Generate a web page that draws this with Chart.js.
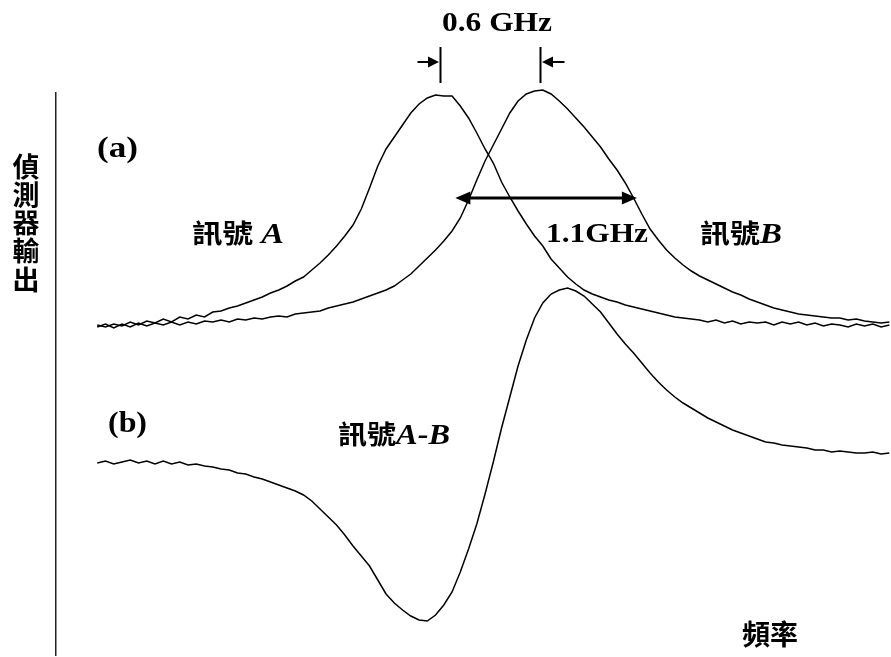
<!DOCTYPE html>
<html>
<head>
<meta charset="utf-8">
<script src="https://cdn.jsdelivr.net/npm/chart.js@4.4.1/dist/chart.umd.min.js"></script>
<style>
  html, body { margin: 0; padding: 0; background: #fff; }
  #c { display: block; }
</style>
</head>
<body>
<canvas id="c" width="891" height="657"></canvas>
<script>
// Scan frequency (GHz)
const freqGHz = [
  0.25,0.30,0.35,0.40,0.45,0.50,0.55,0.60,0.65,0.70,
  0.75,0.80,0.85,0.90,0.95,1.00,1.05,1.10,1.15,1.20,
  1.25,1.30,1.35,1.40,1.45,1.50,1.55,1.60,1.65,1.70,
  1.75,1.80,1.85,1.90,1.95,2.00,2.05,2.10,2.15,2.20,
  2.25,2.30,2.35,2.40,2.45,2.50,2.55,2.60,2.65,2.70,
  2.75,2.80,2.85,2.90,2.95,3.00,3.05,3.10,3.15,3.20,
  3.25,3.30,3.35,3.40,3.45,3.50,3.55,3.60,3.65,3.70,
  3.75,3.80,3.85,3.90,3.95,4.00,4.05,4.10,4.15,4.20,
  4.25,4.30,4.35,4.40,4.45,4.50,4.55,4.60,4.65,4.70,
  4.75,4.80,4.85,4.90,4.95,5.00,5.05
];

// Detector output (arb. units), trace (a): signal A
const signalA = [
  330,328,331,329,333,330,334,332,336,333,
  338,336,340,338,343,344,347,349,352,355,
  358,362,365,369,374,378,385,392,400,409,
  419,430,446,467,489,506,518,530,542,551,
  557,560,559,559,549,537,522,506,492,473,
  458,444,431,419,409,396,387,378,371,365,
  361,358,355,353,350,348,346,344,342,340,
  338,337,336,335,333,335,332,334,331,333,
  332,333,330,333,331,333,330,332,329,331,
  330,328,331,329,331,328,330
];

// Trace (a): signal B
const signalB = [
  328,331,327,331,328,332,329,332,330,333,
  330,333,331,334,333,335,333,336,335,337,
  336,338,339,338,341,342,343,344,347,349,
  351,353,356,359,362,365,369,375,381,389,
  397,405,414,424,437,455,475,494,510,526,
  542,554,561,564,565,561,554,546,537,528,
  518,508,496,485,472,457,441,426,415,405,
  397,390,384,379,375,371,367,363,360,356,
  353,350,347,345,343,341,340,339,338,337,
  337,335,336,334,333,332,333
];

// Trace (b): difference signal A-B
const signalAminusB = [
  192,194,191,193,195,192,194,191,194,191,
  193,190,191,189,188,186,185,182,181,178,
  176,173,170,167,164,160,154,146,138,130,
  120,109,99,89,75,61,52,45,39,35,
  34,40,50,63,83,106,131,161,193,227,
  258,289,315,337,352,361,365,367,364,359,
  351,343,332,321,311,302,292,282,273,265,
  258,252,247,242,237,233,229,225,222,219,
  216,213,212,210,209,208,207,205,205,203,
  204,203,202,202,203,201,202
];

// Annotated spacings (GHz)
const peakAFreq = 2.33;
const peakSpacing = 0.6;
const widthArrowStart = 2.42;
const widthValue = 1.1;

const yAxisTitle = ['偵', '測', '器', '輸', '出'];
const xAxisTitle = '頻率';

const SERIF_B = (s) => `bold ${s}px "Liberation Serif", "Times New Roman", serif`;
const SERIF_BI = (s) => `italic bold ${s}px "Liberation Serif", "Times New Roman", serif`;
const CJK_B = (s) => `bold ${s}px "Noto Sans CJK TC", "Noto Sans CJK SC", sans-serif`;

function toPoints(ys) {
  return freqGHz.map((f, i) => ({ x: f, y: ys[i] }));
}

// Draw a sequence of text runs, squeezed/stretched to a given width
function drawRuns(ctx, runs, left, baseline, width) {
  let total = 0;
  runs.forEach(r => { ctx.font = r.font; r.w = ctx.measureText(r.text).width; total += r.w; });
  const sx = width ? width / total : 1;
  ctx.save();
  ctx.translate(left, baseline);
  ctx.scale(sx, 1);
  ctx.textAlign = 'left';
  ctx.textBaseline = 'alphabetic';
  let cx = 0;
  runs.forEach(r => { ctx.font = r.font; ctx.fillText(r.text, cx, 0); cx += r.w; });
  ctx.restore();
}

function arrowHead(ctx, tipX, tipY, dir, len, half) {
  ctx.beginPath();
  ctx.moveTo(tipX, tipY);
  ctx.lineTo(tipX - dir * len, tipY - half);
  ctx.lineTo(tipX - dir * len, tipY + half);
  ctx.closePath();
  ctx.fill();
}

const annotate = {
  id: 'annotate',
  afterDraw(chart) {
    const { ctx, scales: { x } } = chart;
    ctx.save();
    ctx.fillStyle = '#000';
    ctx.strokeStyle = '#000';

    // Peak spacing markers
    const xa = Math.round(x.getPixelForValue(peakAFreq)) + 0.5;
    const xb = Math.round(x.getPixelForValue(peakAFreq + peakSpacing)) + 0.5;
    ctx.lineWidth = 2;
    ctx.beginPath();
    ctx.moveTo(xa, 47); ctx.lineTo(xa, 83);
    ctx.moveTo(xb, 47); ctx.lineTo(xb, 83);
    ctx.stroke();
    ctx.lineWidth = 1.8;
    ctx.beginPath();
    ctx.moveTo(xa - 23, 62); ctx.lineTo(xa - 6, 62);
    ctx.moveTo(xb + 24, 62); ctx.lineTo(xb + 6, 62);
    ctx.stroke();
    arrowHead(ctx, xa - 1.5, 62, 1, 11, 5.5);
    arrowHead(ctx, xb + 1.5, 62, -1, 11, 5.5);
    drawRuns(ctx, [{ text: peakSpacing.toFixed(1) + ' GHz', font: SERIF_B(28) }], 442, 31, 110);

    // Line width arrow
    const w0 = x.getPixelForValue(widthArrowStart);
    const w1 = x.getPixelForValue(widthArrowStart + widthValue);
    ctx.lineWidth = 3;
    ctx.beginPath();
    ctx.moveTo(w0 + 8, 198); ctx.lineTo(w1 - 8, 198);
    ctx.stroke();
    arrowHead(ctx, w0, 198, -1, 15, 6.5);
    arrowHead(ctx, w1, 198, 1, 15, 6.5);
    drawRuns(ctx, [{ text: widthValue.toFixed(1) + 'GHz', font: SERIF_B(28) }], 546, 242, 102);

    // Panel tags and trace names
    drawRuns(ctx, [{ text: '(a)', font: SERIF_B(29) }], 97, 157, 41);
    drawRuns(ctx, [{ text: '(b)', font: SERIF_B(29) }], 108, 432, 39);
    drawRuns(ctx, [
      { text: '訊號', font: CJK_B(26) },
      { text: ' ', font: SERIF_B(28) },
      { text: 'A', font: SERIF_BI(29) }
    ], 192, 243, 92);
    drawRuns(ctx, [
      { text: '訊號', font: CJK_B(26) },
      { text: 'B', font: SERIF_BI(29) }
    ], 700, 243, 82);
    drawRuns(ctx, [
      { text: '訊號', font: CJK_B(26) },
      { text: 'A-B', font: SERIF_BI(29) }
    ], 338, 444, 112);

    // Axis titles
    drawRuns(ctx, [{ text: xAxisTitle, font: CJK_B(28) }], 742, 645, 56);
    ctx.font = CJK_B(27);
    ctx.textAlign = 'center';
    ctx.textBaseline = 'middle';
    const ys = [167, 195, 223, 251, 280];
    yAxisTitle.forEach((ch, i) => ctx.fillText(ch, 26, ys[i]));
    ctx.restore();
  }
};

const lineStyle = {
  borderColor: '#000',
  borderWidth: 1.5,
  pointRadius: 0,
  fill: false,
  tension: 0,
  clip: false
};

new Chart(document.getElementById('c'), {
  type: 'line',
  data: {
    datasets: [
      { label: '訊號 A', data: toPoints(signalA), ...lineStyle },
      { label: '訊號 B', data: toPoints(signalB), ...lineStyle },
      { label: '訊號 A-B', data: toPoints(signalAminusB), ...lineStyle }
    ]
  },
  options: {
    responsive: false,
    animation: false,
    devicePixelRatio: 1,
    layout: { padding: { left: 56, top: 93, right: 0, bottom: 2 } },
    plugins: { legend: { display: false }, tooltip: { enabled: false } },
    scales: {
      x: { type: 'linear', min: 0, max: 5.06, display: false },
      y: {
        type: 'linear', min: 0, max: 562,
        ticks: { display: false },
        grid: { display: false, drawTicks: false },
        border: { display: true, color: '#222', width: 1.5 }
      }
    }
  },
  plugins: [annotate]
});
</script>
</body>
</html>
